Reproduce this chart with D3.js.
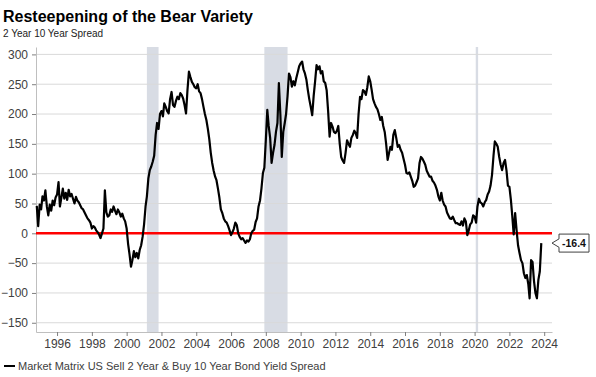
<!DOCTYPE html>
<html><head><meta charset="utf-8">
<script src="https://cdn.jsdelivr.net/npm/d3@7"></script>
<style>body{margin:0;background:#fff;} svg{display:block;font-family:"Liberation Sans",Arial,sans-serif;}</style>
</head><body><svg id="chart" width="596" height="377"></svg>
<script>
const title = "Resteepening of the Bear Variety";
const subtitle = "2 Year 10 Year Spread";
const seriesName = "Market Matrix US Sell 2 Year & Buy 10 Year Bond Yield Spread";
const firstMonth = [1994, 10]; // Nov 1994 (month index 0-based), monthly values follow
const spread = [
  46, 12,
  48, 40, 62, 55, 72, 45, 30, 48, 38, 55, 47, 60,
  65, 86, 45, 60, 75, 58, 68, 56, 73, 62, 66, 58,
  50, 61, 55, 52, 47, 42, 40, 35, 30, 25, 22, 18,
  8, 12, 10, 5, 2, -2, -8, 0, 8, 72, 35, 28,
  30, 40, 36, 45, 38, 32, 40, 35, 28, 33, 25, 20,
  8, -18, -35, -56, -45, -30, -40, -33, -42, -28, -20, -6,
  15, 45, 62, 92, 106, 112, 120, 130, 165, 185, 175, 200,
  205, 196, 218, 212, 205, 201, 225, 237, 215, 212, 222, 229,
  225, 235, 232, 226, 215, 201, 240, 271, 262, 254, 250, 245,
  243, 250, 238, 235, 225, 212, 200, 190, 175, 158, 135, 118,
  105, 95, 89, 75, 60, 40, 34, 25, 20, 18, 12, 5,
  -3, 2, 8, 18, 14, 0, -6, -10, -8, -12, -16, -12,
  -14, -10, 0, 4, 6, 19, 25, 45, 55, 75, 101, 110,
  156, 207, 180, 160, 118, 135, 148, 170, 185, 252, 200, 128,
  170, 185, 200, 230, 268, 262, 246, 255, 248, 260, 270, 280,
  285, 288, 275, 268, 258, 240, 225, 212, 198, 230, 255, 282,
  275, 280, 268, 272, 255, 252, 240, 205, 162, 185, 179, 170,
  168, 172, 180, 150, 128, 122, 118, 135, 156, 150, 145, 160,
  165, 172, 168, 160, 200, 229, 225, 240, 238, 232, 245, 263,
  255, 240, 225, 218, 212, 208, 200, 190, 195, 180, 170, 150,
  123, 135, 145, 140, 165, 173, 160, 145, 148, 140, 135, 125,
  115, 101, 100, 102, 95, 88, 78, 80, 86, 92, 118, 128,
  125, 120, 115, 105, 100, 95, 95, 88, 85, 80, 73, 62,
  55, 68, 55, 48, 45, 35, 30, 25, 24, 28, 22, 17,
  17, 15, 14, 20, 13, 25, 20, -3, 5, 15, 18, 30,
  28, 18, 45, 58, 52, 50, 45, 52, 56, 65, 70, 80,
  98, 130, 154, 150, 145, 128, 115, 106, 118, 123, 105, 80,
  78, 56, 30, -2, 34, 5, -20, -33, -45, -50, -67, -75,
  -70, -85, -109, -45, -48, -80, -100, -109, -78, -64, -16.4
];
const recessions = [["2001-03-01", "2001-11-01"], ["2007-12-01", "2009-04-01"], ["2020-01-25", "2020-03-15"]];
const yTicks = [-150, -100, -50, 0, 50, 100, 150, 200, 250, 300];
const xTickYears = [1996, 1998, 2000, 2002, 2004, 2006, 2008, 2010, 2012, 2014, 2016, 2018, 2020, 2022, 2024];
const lastLabel = "-16.4";

const data = spread.map((v, i) => ({ date: new Date(firstMonth[0], firstMonth[1] + i, 1), value: v }));
const parse = d3.timeParse("%Y-%m-%d");

const svg = d3.select("#chart");
const L = 36, R = 552, T = 47, B = 332;
const x = d3.scaleTime().domain([new Date(1994, 9, 16), new Date(2024, 5, 13)]).range([L, R]);
const y = d3.scaleLinear().domain([-165.5, 312.4]).range([B, T]);

// recession shading
svg.append("g").selectAll("rect").data(recessions).join("rect")
  .attr("x", d => x(parse(d[0])))
  .attr("width", d => x(parse(d[1])) - x(parse(d[0])))
  .attr("y", T).attr("height", B - T)
  .attr("fill", "#d8dce4");

// gridlines
svg.append("g").selectAll("line").data(yTicks).join("line")
  .attr("x1", L).attr("x2", R)
  .attr("y1", d => y(d)).attr("y2", d => y(d))
  .attr("stroke", "#d9d9d9").attr("stroke-width", 1);

// axes
const yAxis = svg.append("g").attr("transform", `translate(${L},0)`)
  .call(d3.axisLeft(y).tickValues(yTicks).tickSize(4).tickSizeOuter(0).tickPadding(4));
yAxis.select(".domain").attr("stroke", "#bfbfbf");
yAxis.selectAll(".tick line").attr("stroke", "#7f7f7f");
yAxis.selectAll("text").attr("font-size", 12).attr("fill", "#404040").attr("font-family", "Liberation Sans, Arial, sans-serif");

const xAxis = svg.append("g").attr("transform", `translate(0,${B})`)
  .call(d3.axisBottom(x).tickValues(xTickYears.map(v => new Date(v, 0, 1)))
    .tickFormat(d3.timeFormat("%Y")).tickSize(4).tickSizeOuter(0).tickPadding(3));
xAxis.select(".domain").attr("stroke", "#bfbfbf");
xAxis.selectAll(".tick line").attr("stroke", "#7f7f7f");
xAxis.selectAll("text").attr("font-size", 12).attr("fill", "#404040").attr("font-family", "Liberation Sans, Arial, sans-serif");

// zero line
svg.append("line").attr("x1", L).attr("x2", R).attr("y1", y(0)).attr("y2", y(0))
  .attr("stroke", "#ff0000").attr("stroke-width", 2.5);

// data line
svg.append("path").datum(data)
  .attr("fill", "none").attr("stroke", "#000").attr("stroke-width", 2.2)
  .attr("stroke-linejoin", "round")
  .attr("d", d3.line().x(d => x(d.date)).y(d => y(d.value)));

// callout
const last = data[data.length - 1];
const cy = y(last.value);
const bx = 559, bw = 30, bh = 18;
svg.append("path")
  .attr("d", `M${bx},${cy - bh / 2} H${bx + bw} V${cy + bh / 2} H${bx} V${cy + 4.2} L${R},${cy} L${bx},${cy - 4.2} Z`)
  .attr("fill", "#fff").attr("stroke", "#404040").attr("stroke-width", 1);
svg.append("text").attr("x", bx + bw / 2).attr("y", cy + 3.8)
  .attr("text-anchor", "middle").attr("font-size", 10.5).attr("font-weight", "bold").attr("fill", "#111")
  .text(lastLabel);

// titles
svg.append("text").attr("x", 3).attr("y", 21.5).attr("font-size", 16).attr("font-weight", "bold").attr("fill", "#000").text(title);
svg.append("text").attr("x", 3).attr("y", 37).attr("font-size", 10).attr("fill", "#222").text(subtitle);

// legend
svg.append("line").attr("x1", 4).attr("x2", 15).attr("y1", 366).attr("y2", 366).attr("stroke", "#000").attr("stroke-width", 2);
svg.append("text").attr("x", 18).attr("y", 370).attr("font-size", 11).attr("fill", "#404040").text(seriesName);
</script>
</body></html>
